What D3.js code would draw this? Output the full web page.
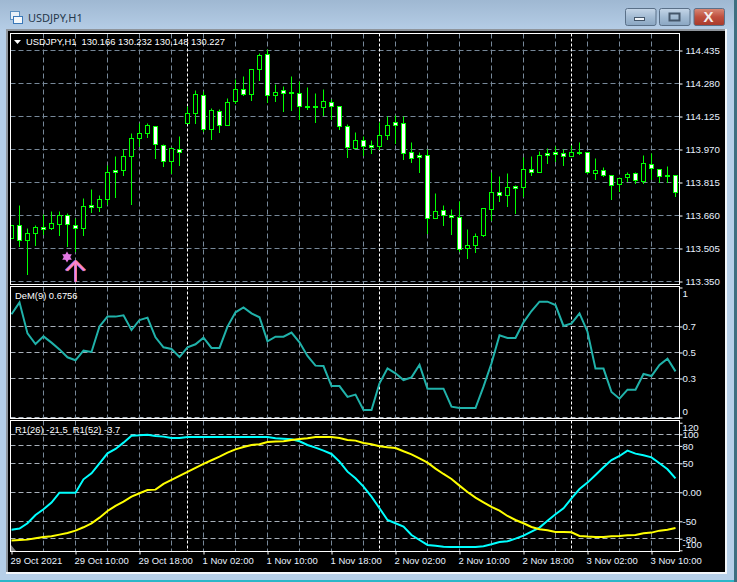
<!DOCTYPE html>
<html><head><meta charset="utf-8">
<script src="https://cdn.jsdelivr.net/npm/d3@7/dist/d3.min.js"></script>
<style>
html,body{margin:0;padding:0;background:#b6cfe8;overflow:hidden}
svg{display:block}
text{font-family:"Liberation Sans",Arial,sans-serif;font-size:10px;fill:#fff}
</style></head><body><div id="chart"></div>
<script>
const firstBar = -1;
const opens = [113.551,113.612,113.542,113.576,113.605,113.598,113.617,113.661,113.614,113.598,113.705,113.697,113.734,113.872,113.870,113.936,114.023,114.046,114.077,113.990,113.915,113.969,114.092,114.138,114.225,114.063,114.149,114.085,114.194,114.253,114.227,114.345,114.417,114.223,114.245,114.240,114.234,114.174,114.174,114.166,114.192,114.173,114.079,113.974,114.013,113.990,113.983,114.035,114.098,114.093,113.957,113.943,113.943,113.645,113.684,113.661,113.652,113.504,113.518,113.565,113.689,113.769,113.755,113.794,113.792,113.877,113.863,113.949,113.954,113.952,113.936,113.958,113.957,113.856,113.872,113.849,113.805,113.838,113.858,113.819,113.901,113.877,113.849,113.849];
const highs = [113.611,113.709,113.600,113.611,113.667,113.681,113.681,113.670,113.644,113.741,113.780,113.756,113.897,113.936,113.972,114.046,114.090,114.093,114.080,113.994,113.980,114.033,114.171,114.249,114.241,114.164,114.156,114.210,114.300,114.311,114.347,114.422,114.441,114.273,114.264,114.311,114.288,114.259,114.235,114.253,114.206,114.174,114.088,114.051,114.033,114.010,114.096,114.127,114.132,114.124,114.002,113.958,113.971,113.764,113.705,113.686,113.728,113.592,113.576,113.694,113.863,113.841,113.855,113.803,113.933,113.939,113.961,113.976,113.982,113.968,113.991,114.005,113.958,113.930,113.886,113.849,113.836,113.863,113.860,113.944,113.952,113.877,113.888,113.849];
const lows = [113.551,113.513,113.381,113.521,113.572,113.595,113.568,113.513,113.490,113.568,113.673,113.681,113.714,113.744,113.850,113.711,113.986,114.025,113.927,113.889,113.858,113.894,114.090,114.090,114.054,114.015,114.052,114.085,114.188,114.223,114.199,114.293,114.190,114.194,114.148,114.152,114.113,114.156,114.096,114.132,114.113,114.066,113.931,113.974,113.941,113.949,113.971,114.015,113.999,113.925,113.911,113.864,113.576,113.645,113.611,113.573,113.490,113.457,113.485,113.562,113.636,113.728,113.701,113.668,113.748,113.850,113.863,113.903,113.913,113.897,113.936,113.946,113.856,113.831,113.842,113.733,113.774,113.822,113.809,113.809,113.827,113.814,113.816,113.747];
const closes = [113.611,113.542,113.576,113.605,113.592,113.623,113.661,113.617,113.598,113.703,113.697,113.736,113.863,113.861,113.938,114.023,114.046,114.084,113.994,113.915,113.976,113.957,114.140,114.229,114.062,114.151,114.082,114.192,114.253,114.227,114.347,114.413,114.225,114.239,114.235,114.231,114.171,114.170,114.166,114.196,114.171,114.077,113.978,114.013,113.984,113.980,114.037,114.084,114.085,113.950,113.927,113.931,113.645,113.680,113.659,113.652,113.501,113.518,113.562,113.691,113.769,113.755,113.792,113.786,113.877,113.861,113.943,113.941,113.946,113.936,113.957,113.954,113.861,113.872,113.847,113.802,113.836,113.854,113.825,113.905,113.880,113.842,113.842,113.769];
const demValues = [.794,.886,.647,.565,.624,.576,.524,.463,.440,.514,.504,.701,.776,.776,.786,.673,.750,.768,.617,.540,.527,.465,.540,.563,.614,.535,.535,.699,.809,.847,.801,.771,.586,.622,.622,.653,.578,.473,.399,.396,.242,.242,.158,.176,.058,.058,.263,.378,.340,.288,.309,.406,.222,.222,.222,.083,.073,.073,.073,.237,.417,.632,.612,.612,.732,.819,.891,.891,.865,.704,.724,.801,.660,.376,.376,.196,.145,.214,.214,.335,.319,.404,.453,.355];
const r26Values = [-64.4,-62.6,-53.4,-39.1,-29.3,-17.8,-0.6,-0.6,-0.6,22.4,32.8,50.0,67.2,74.7,85.6,97.7,98.3,99.4,97.1,96.0,93.7,93.7,95.4,95.4,95.4,95.4,95.4,95.4,95.4,95.4,95.4,95.4,95.4,93.1,92.5,91.4,87.9,81.6,77.0,71.8,66.1,52.9,35.6,24.1,9.8,-7.5,-27.6,-47.7,-53.4,-59.2,-73.6,-82.2,-90.8,-92.0,-93.7,-94.3,-94.3,-94.3,-94.3,-93.1,-89.7,-85.6,-84.5,-79.9,-74.7,-67.8,-60.9,-48.9,-37.9,-27.6,-10.3,5.7,16.7,29.9,43.1,55.7,62.6,71.8,66.7,63.8,60.3,50.0,39.7,24.1];
const r52Values = [-83.3,-82.2,-81.6,-79.3,-77.0,-75.9,-73.0,-70.1,-66.1,-60.3,-53.4,-43.7,-32.2,-23.6,-16.1,-7.5,-1.7,4.0,4.6,14.4,21.3,28.2,35.1,42.0,48.9,55.2,61.5,68.4,74.1,78.2,81.6,82.8,86.8,87.4,87.9,90.2,92.0,93.1,95.4,95.4,95.4,93.7,90.2,89.1,85.1,82.8,79.3,77.6,76.4,70.7,65.5,58.6,51.1,40.8,31.6,23.0,11.5,0.6,-9.2,-17.2,-25.3,-31.6,-40.8,-47.7,-53.4,-59.8,-63.8,-65.5,-68.4,-68.4,-69.0,-75.3,-76.4,-77.0,-77.0,-75.9,-75.3,-74.1,-73.6,-70.7,-69.5,-66.1,-64.4,-61.5];
const priceTicks = [114.435,114.280,114.125,113.970,113.815,113.660,113.505,113.350];
const demTicks = [1,0.7,0.5,0.3,0];
const rsiTicks = [120,100,80,50,0,-50,-80,-100];
const gridBars = [3,7,11,15,19,23,27,31,35,39,43,47,51,55,59,63,67,71,75,79];
const daySeparators = [21,45,69];
const timeTickBars = [-1,7,15,23,31,39,47,55,63,71,79];
const timeTickLabels = ["29 Oct 2021","29 Oct 10:00","29 Oct 18:00","1 Nov 02:00","1 Nov 10:00","1 Nov 18:00","2 Nov 02:00","2 Nov 10:00","2 Nov 18:00","3 Nov 02:00","3 Nov 10:00"];
const headerText = "USDJPY,H1  130.166 130.232 130.148 130.227";
const demLabel = "DeM(9) 0.6756";
const rsiLabel = "R1(26) -21.5  R1(52) -3.7";
const windowTitle = "USDJPY,H1";
const starBar = 6, starPrice = 113.465, arrowBar = 7, arrowTip = 113.449, arrowBase = 113.348;

const W = 737, H = 582, L = 10.5, R = 679.5;
const svg = d3.select("#chart").append("svg").attr("width", W).attr("height", H);
const defs = svg.append("defs");
const tg = defs.append("linearGradient").attr("id","tb").attr("x1",0).attr("y1",0).attr("x2",0).attr("y2",1);
tg.append("stop").attr("offset",0).attr("stop-color","#9fb8d2");
tg.append("stop").attr("offset",1).attr("stop-color","#b5cde6");
const bg = defs.append("linearGradient").attr("id","btn").attr("x1",0).attr("y1",0).attr("x2",0).attr("y2",1);
bg.append("stop").attr("offset",0).attr("stop-color","#c5d6e8");
bg.append("stop").attr("offset",.5).attr("stop-color","#a3bbd3");
bg.append("stop").attr("offset",1).attr("stop-color","#8aa6c2");
const rg = defs.append("linearGradient").attr("id","cls").attr("x1",0).attr("y1",0).attr("x2",0).attr("y2",1);
rg.append("stop").attr("offset",0).attr("stop-color","#d98a78");
rg.append("stop").attr("offset",.5).attr("stop-color","#bf4f3e");
rg.append("stop").attr("offset",1).attr("stop-color","#a83a2c");
defs.append("clipPath").attr("id","plot").append("rect").attr("x",L).attr("y",33).attr("width",R-L).attr("height",520);

// window frame
svg.append("rect").attr("width",W).attr("height",H).attr("fill","#b6cfe8");
svg.append("rect").attr("width",W).attr("height",30).attr("fill","url(#tb)");
svg.append("rect").attr("x",6).attr("y",29).attr("width",719).attr("height",543).attr("fill","#000");
svg.append("rect").attr("x",6).attr("y",29).attr("width",719).attr("height",2).attr("fill","#8f959c");
svg.append("rect").attr("x",6).attr("y",29).attr("width",2).attr("height",543).attr("fill","#8f959c");
svg.append("rect").attr("x",725).attr("y",29).attr("width",2).attr("height",545).attr("fill","#f2f6fa");
svg.append("rect").attr("x",6).attr("y",572).attr("width",721).attr("height",2).attr("fill","#f2f6fa");
svg.append("rect").attr("x",0).attr("y",580).attr("width",W).attr("height",2).attr("fill","#2bb6c8");
svg.append("rect").attr("x",734).attr("y",0).attr("width",3).attr("height",H).attr("fill","#3d6f80");

// title bar
const ic = svg.append("g");
ic.append("rect").attr("x",10.5).attr("y",11.5).attr("width",9).attr("height",8).attr("fill","#e8f0f8").attr("stroke","#5b8fc0");
ic.append("rect").attr("x",13.5).attr("y",16.5).attr("width",9).attr("height",7).attr("fill","#f5f8fb").attr("stroke","#3a78b8");
svg.append("text").attr("x",28).attr("y",22).style("font-size","11px").style("font-family","'Noto Sans',sans-serif").style("fill","#26384c").text(windowTitle);
const buttons = [{x:625,f:"url(#btn)"},{x:659,f:"url(#btn)"},{x:693.5,f:"url(#cls)"}];
svg.selectAll("rect.b").data(buttons).join("rect").attr("class","b").attr("x",d=>d.x+.5).attr("y",8.5).attr("width",30.5).attr("height",17).attr("rx",2).attr("fill",d=>d.f).attr("stroke","#5a7088");
svg.append("rect").attr("x",634.5).attr("y",17.5).attr("width",10).attr("height",3).attr("fill","#eef3f8").attr("stroke","#44566a");
svg.append("rect").attr("x",669.5).attr("y",13.5).attr("width",10).attr("height",7).attr("fill","none").attr("stroke","#44566a").attr("stroke-width",2);
svg.append("text").attr("x",708.5).attr("y",21.5).attr("text-anchor","middle").style("font-size","15px").style("font-weight","bold").style("fill","#f4eeee").text("X");

// scales
const x = d3.scaleLinear().domain([-1,82]).range([11.5,675.5]);
const yP = d3.scaleLinear().domain([113.35,114.435]).range([281.5,50.5]);
const yD = d3.scaleLinear().domain([0,1]).range([417.5,287.5]);
const yR = d3.scaleLinear().domain([-100,120]).range([550.3,422.7]);
const snap = v => Math.floor(v) + .5;
const bars = opens.map((o,i)=>({i:firstBar+i,o,h:highs[i],l:lows[i],c:closes[i]}));

const panels = [
 {t:33.5,b:284.5,y:yP,ticks:priceTicks},
 {t:286.5,b:418.5,y:yD,ticks:[0.7,0.5,0.3,0]},
 {t:420.5,b:551.5,y:yR,ticks:[100,80,50,0,-50,-80]}
];
// grid
panels.forEach(p=>{
  const g = svg.append("g");
  g.selectAll("line.h").data(p.ticks).join("line").attr("x1",L).attr("x2",R)
    .attr("y1",d=>snap(p.y(d))).attr("y2",d=>snap(p.y(d)))
    .attr("stroke",(p.y===yR||p.y===yD)?"#a8b0ba":"#778899").attr("stroke-dasharray","5 3");
  g.selectAll("line.v").data(gridBars).join("line").attr("x1",d=>snap(x(d))).attr("x2",d=>snap(x(d)))
    .attr("y1",p.t).attr("y2",p.b).attr("stroke","#778899").attr("stroke-dasharray","5 3");
  g.selectAll("line.s").data(daySeparators).join("line").attr("x1",d=>snap(x(d))).attr("x2",d=>snap(x(d)))
    .attr("y1",p.t).attr("y2",p.b).attr("stroke","#fff").attr("stroke-dasharray","3 2");
});

// candles
const cg = svg.append("g").attr("clip-path","url(#plot)");
const cs = cg.selectAll("g").data(bars).join("g");
cs.append("line").attr("x1",d=>snap(x(d.i))).attr("x2",d=>snap(x(d.i)))
  .attr("y1",d=>snap(yP(d.h))).attr("y2",d=>snap(yP(d.l))+.5).attr("stroke","#00ff00");
cs.append("rect").attr("x",d=>snap(x(d.i))-2).attr("width",4)
  .attr("y",d=>snap(yP(Math.max(d.o,d.c))))
  .attr("height",d=>Math.max(1,snap(yP(Math.min(d.o,d.c)))-snap(yP(Math.max(d.o,d.c)))))
  .attr("fill",d=>d.o>d.c?"#fff":"#000").attr("stroke","#00ff00");

// signal marks
const starX = x(starBar)-.5, starY = yP(starPrice);
[0,180].forEach(r=>svg.append("path").attr("d",d3.symbol(d3.symbolTriangle,40)())
  .attr("transform",`translate(${starX},${starY}) rotate(${r})`).attr("fill","#e277e2"));
const ax = snap(x(arrowBar)), at = yP(arrowTip), ab = yP(arrowBase);
const arrow = d3.line();
[[-1,"#6a6cf0"],[1,"#e8705a"],[0,"#ff86d0"]].forEach(([o,c])=>{
  svg.append("path").attr("d",arrow([[ax-9+o,at+10],[ax+o,at+1],[ax+9+o,at+10]])).attr("fill","none").attr("stroke",c).attr("stroke-width",2);
  svg.append("line").attr("x1",ax+o).attr("x2",ax+o).attr("y1",at+2).attr("y2",ab).attr("stroke",c).attr("stroke-width",o?1:2);
});

// indicator lines
const lineOf = (vals,y)=>d3.line().x((d,i)=>x(firstBar+i)).y(d=>y(d))(vals);
cg.append("path").attr("d",lineOf(demValues,yD)).attr("fill","none").attr("stroke","#20b2aa").attr("stroke-width",2);
cg.append("path").attr("d",lineOf(r26Values,yR)).attr("fill","none").attr("stroke","#00ffff").attr("stroke-width",2);
cg.append("path").attr("d",lineOf(r52Values,yR)).attr("fill","none").attr("stroke","#ffff00").attr("stroke-width",2);

// panel borders
panels.forEach(p=>svg.append("rect").attr("x",L).attr("y",p.t).attr("width",R-L).attr("height",p.b-p.t).attr("fill","none").attr("stroke","#fff"));

// axes
function rightAxis(scale,ticks,fmt,gap,shift){
  const g = svg.append("g").attr("transform",`translate(${R},0)`)
    .call(d3.axisRight(scale).tickValues(ticks).tickFormat(fmt).tickSize(3).tickPadding(gap));
  g.select(".domain").remove();
  g.selectAll("line").attr("stroke","#fff").attr("y1",0).attr("y2",0);
  g.selectAll("text").style("fill","#e8f2ff").style("font-size","9.7px").attr("dy","0.34em")
    .attr("transform",d=>`translate(0,${shift?shift(d):0})`);
}
rightAxis(yP,priceTicks,d3.format(".3f"),3);
rightAxis(yD,demTicks,d=>String(d),0,d=>d===1?6:d===0?-6:0);
rightAxis(yR,rsiTicks,d=>d===0?"0.00":String(d),0,d=>d===120?4:d===-100?-6:0);
const bx = svg.append("g").attr("transform","translate(0,551.5)")
  .call(d3.axisBottom(x).tickValues(timeTickBars).tickFormat((d,i)=>timeTickLabels[i]).tickSize(3).tickPadding(3));
bx.select(".domain").remove();
bx.selectAll("line").attr("stroke","#fff");
bx.selectAll("text").attr("text-anchor","start").attr("dx",-1.5).style("fill","#e8f2ff").style("font-size","9.5px");

// legends
svg.append("path").attr("d","M14,40H21L17.5,44Z").attr("fill","#fff");
const tx = (t,xp,yp)=>svg.append("text").attr("x",xp).attr("y",yp).attr("xml:space","preserve").style("white-space","pre").style("font-size","9.4px").text(t);
tx(headerText,26,45);
tx(demLabel,15,299);
tx(rsiLabel,15,433);
svg.append("path").attr("d","M11,545L16,551H11Z").attr("fill","#808080");
</script></body></html>
